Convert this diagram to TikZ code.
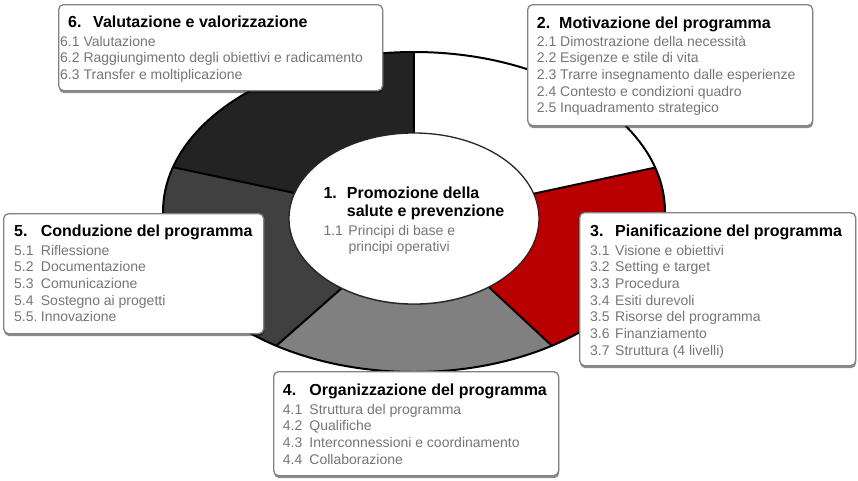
\documentclass[tikz,border=0pt]{standalone}
\usepackage{fontspec}
\setmainfont{Liberation Sans}
\usetikzlibrary{shapes.geometric,shadows}
\definecolor{segA}{RGB}{35,35,35}
\definecolor{segB}{RGB}{64,64,64}
\definecolor{segC}{RGB}{128,128,128}
\definecolor{segD}{RGB}{185,0,0}
\definecolor{itemgray}{RGB}{118,118,118}
\definecolor{boxline}{RGB}{130,130,130}
\begin{document}
\begin{tikzpicture}[x=1pt,y=-1pt,
  box/.style={draw=boxline, line width=1.3pt, fill=white, rounded corners=5pt, inner sep=0pt, anchor=north west,
    drop shadow={shadow xshift=0.5pt, shadow yshift=-2.5pt, opacity=0.45, fill=black}},
  ttl/.style={anchor=base west, inner sep=0pt, font=\fontsize{16}{18}\selectfont\bfseries, text=black},
  itm/.style={anchor=base west, inner sep=0pt, font=\fontsize{14}{16}\selectfont, text=itemgray},
  segline/.style={line width=2pt, black},
]
\useasboundingbox (0,0) rectangle (858,480);
% ring segments
\begin{scope}
  \clip (414,212) ellipse [x radius=251pt, y radius=160pt];
  \fill[white] (0,0) rectangle (858,480);
  \fill[segA] (414,219) -- (414,0) -- (0,0) -- (0,130.5) -- (330,200.5) -- cycle;
  \fill[segB] (414,219) -- (330,200.5) -- (0,130.5) -- (0,480) -- (124,480) -- (364,268.5) -- cycle;
  \fill[segC] (414,219) -- (364,268.5) -- (124,480) -- (696,480) -- (468.4,268) -- cycle;
  \fill[segD] (414,219) -- (468.4,268) -- (696,480) -- (858,480) -- (858,124) -- (502,200.5) -- cycle;
  \draw[segline] (414,219) -- (414,0);
  \draw[segline] (330,200.5) -- (0,130.5);
  \draw[segline] (364,268.5) -- (124,480);
  \draw[segline] (468.4,268) -- (696,480);
  \draw[segline] (502,200.5) -- (858,124);
\end{scope}
\draw[line width=2pt] (414,212) ellipse [x radius=251pt, y radius=160pt];
% centre ellipse
\node[ellipse, draw=black!85, line width=1.3pt, fill=white, minimum width=250pt, minimum height=171pt, inner sep=0pt,
  drop shadow={shadow xshift=0pt, shadow yshift=-1pt, opacity=0.3, fill=black}] (core) at (414,218.5) {};
\node[ttl] (c1) at (323.3,198.3) {\makebox[23.4pt][l]{1.}Promozione della};
\node[ttl] (c2) at (346.7,216.7) {salute e prevenzione};
\node[itm] (c3) at (323.3,235) {\makebox[25pt][l]{1.1}Principi di base e};
\node[itm] (c4) at (348.3,251.7) {principi operativi};
% boxes
\node[box, minimum width=324pt, minimum height=86pt] (b6) at (58,4) {};
\node[box, minimum width=285pt, minimum height=121pt] (b2) at (527,4) {};
\node[box, minimum width=260pt, minimum height=120pt] (b5) at (3,213) {};
\node[box, minimum width=276pt, minimum height=153pt] (b3) at (579,212) {};
\node[box, minimum width=285pt, minimum height=104pt] (b4) at (273,371) {};
% box 6
\node[ttl] (t6) at (68,27.5) {\makebox[25pt][l]{6.}Valutazione e valorizzazione};
\node[itm] (i61) at (60,46) {6.1 Valutazione};
\node[itm] (i62) at (60,62.7) {6.2 Raggiungimento degli obiettivi e radicamento};
\node[itm] (i63) at (60,79.3) {6.3 Transfer e moltiplicazione};
% box 2
\node[ttl] (t2) at (536.7,28) {\makebox[22.3pt][l]{2.}Motivazione del programma};
\node[itm] (i21) at (536.7,46) {2.1 Dimostrazione della necessità};
\node[itm] (i22) at (536.7,62.7) {2.2 Esigenze e stile di vita};
\node[itm] (i23) at (536.7,79.3) {2.3 Trarre insegnamento dalle esperienze};
\node[itm] (i24) at (536.7,96) {2.4 Contesto e condizioni quadro};
\node[itm] (i25) at (536.7,112.7) {2.5 Inquadramento strategico};
% box 5
\node[ttl] (t5) at (14,236.7) {\makebox[26.7pt][l]{5.}Conduzione del programma};
\node[itm] (i51) at (14,255) {\makebox[26.7pt][l]{5.1}Riflessione};
\node[itm] (i52) at (14,271.7) {\makebox[26.7pt][l]{5.2}Documentazione};
\node[itm] (i53) at (14,288.3) {\makebox[26.7pt][l]{5.3}Comunicazione};
\node[itm] (i54) at (14,305) {\makebox[26.7pt][l]{5.4}Sostegno ai progetti};
\node[itm] (i55) at (14,321.7) {\makebox[26.7pt][l]{5.5.}Innovazione};
% box 3
\node[ttl] (t3) at (590,236.7) {\makebox[25pt][l]{3.}Pianificazione del programma};
\node[itm] (i31) at (590,255) {\makebox[25pt][l]{3.1}Visione e obiettivi};
\node[itm] (i32) at (590,271.7) {\makebox[25pt][l]{3.2}Setting e target};
\node[itm] (i33) at (590,288.3) {\makebox[25pt][l]{3.3}Procedura};
\node[itm] (i34) at (590,305) {\makebox[25pt][l]{3.4}Esiti durevoli};
\node[itm] (i35) at (590,321.7) {\makebox[25pt][l]{3.5}Risorse del programma};
\node[itm] (i36) at (590,338.3) {\makebox[25pt][l]{3.6}Finanziamento};
\node[itm] (i37) at (590,355) {\makebox[25pt][l]{3.7}Struttura (4 livelli)};
% box 4
\node[ttl] (t4) at (282.7,395.7) {\makebox[26.6pt][l]{4.}Organizzazione del programma};
\node[itm] (i41) at (282.7,414) {\makebox[26.6pt][l]{4.1}Struttura del programma};
\node[itm] (i42) at (282.7,430.7) {\makebox[26.6pt][l]{4.2}Qualifiche};
\node[itm] (i43) at (282.7,447.3) {\makebox[26.6pt][l]{4.3}Interconnessioni e coordinamento};
\node[itm] (i44) at (282.7,464) {\makebox[26.6pt][l]{4.4}Collaborazione};
\end{tikzpicture}
\end{document}
